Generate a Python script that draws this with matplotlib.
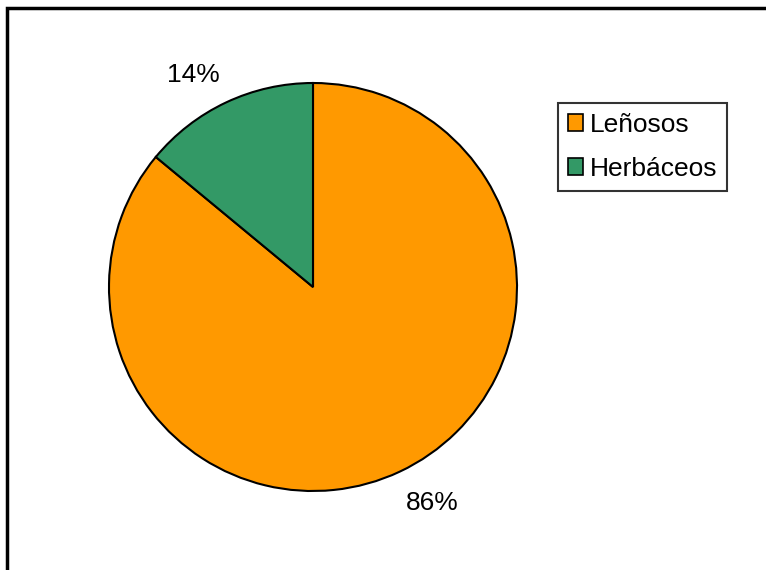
import numpy as np
import matplotlib
matplotlib.use("Agg")
import matplotlib.pyplot as plt
from matplotlib.patches import Patch

plt.rcParams['font.family'] = ['Liberation Sans', 'DejaVu Sans']

categories = ['Leñosos', 'Herbáceos']
values = [86, 14]
colors = ['#FF9900', '#339966']

W, H = 766, 570
fig = plt.figure(figsize=(W / 100, H / 100), dpi=100)
ax = fig.add_axes([0, 0, 1, 1])

cx, cy, r = 313, H - 287, 204
wedges, texts, autotexts = ax.pie(
    values, colors=colors, startangle=90, counterclock=False,
    center=(cx, cy), radius=r, frame=True,
    autopct='%1.0f%%', pctdistance=1.2,
    wedgeprops=dict(edgecolor='black', linewidth=1.5),
    textprops=dict(fontsize=19, color='black'))

# labels sit a little counter-clockwise of the wedge middle, like the original
for w, t in zip(wedges, autotexts):
    ang = np.deg2rad((w.theta1 + w.theta2) / 2 + 4)
    t.set_position((cx + 1.2 * r * np.cos(ang), cy + 1.2 * r * np.sin(ang) - 2))

ax.set_xlim(0, W)
ax.set_ylim(0, H)
ax.set_aspect('equal')
ax.axis('off')

# outer chart frame (right and bottom edges fall outside the image)
ax.plot([7, 7, W + 10], [-10, H - 8, H - 8], color='black', linewidth=2.5,
        solid_joinstyle='miter', clip_on=False)

handles = [Patch(facecolor=c, edgecolor='black', linewidth=1.2) for c in colors]
leg = ax.legend(handles, categories, loc='upper left',
                bbox_to_anchor=(558, H - 103), bbox_transform=ax.transData,
                fontsize=19, frameon=True, fancybox=False, shadow=False,
                handlelength=0.6, handleheight=0.6, handletextpad=0.25,
                labelspacing=0.78, borderpad=0.36, borderaxespad=0)
leg.get_frame().set_edgecolor('black')
leg.get_frame().set_linewidth(1.5)

fig.savefig('out.png', dpi=100)
